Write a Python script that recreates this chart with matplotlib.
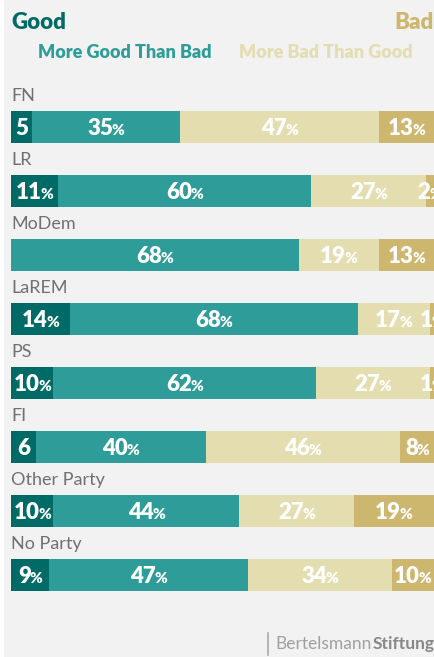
import matplotlib.pyplot as plt
import numpy as np
from matplotlib.patches import Rectangle

W, H, DPI = 435, 657, 100

parties = ["FN", "LR", "MoDem", "LaREM", "PS", "FI", "Other Party", "No Party"]
good = [5, 11, 0, 14, 10, 6, 10, 9]
more_good = [35, 60, 68, 68, 62, 40, 44, 47]
more_bad = [47, 27, 19, 17, 27, 46, 27, 34]
bad = [13, 2, 13, 1, 1, 8, 19, 10]

series = [good, more_good, more_bad, bad]
colors = ["#006b66", "#2e9c98", "#e3ddb0", "#cdb66e"]
BG = "#f2f2f2"

plt.rcParams["font.family"] = ["Lato", "DejaVu Sans"]

fig = plt.figure(figsize=(W / DPI, H / DPI), dpi=DPI, facecolor=BG)
fig.patches.append(Rectangle((0, 0), 4 / W, 1, transform=fig.transFigure,
                             facecolor="white", edgecolor="none"))


def px(x, y):
    return x / W, 1 - y / H


# header
fig.text(*px(11, 29), "Good", color="#006b66", fontsize=16, fontweight="heavy", va="baseline")
fig.text(*px(434, 29), "Bad", color="#cdb66e", fontsize=16, fontweight="heavy", va="baseline", ha="right")
fig.text(*px(38, 58), "More Good Than Bad", color="#2e9c98", fontsize=13, fontweight="heavy", va="baseline")
fig.text(*px(239, 58), "More Bad Than Good", color="#e3ddb0", fontsize=13, fontweight="heavy", va="baseline")

# bars
ax = fig.add_axes([11 / W, (H - 607) / H, 423 / W, 512 / H])
ax.set_facecolor("none")
ax.set_xlim(0, 100)
ax.set_ylim(len(parties) - 0.5, -0.5)
ax.axis("off")

y = np.arange(len(parties))
left = np.zeros(len(parties))
for vals, c in zip(series, colors):
    ax.barh(y, vals, left=left, height=0.5, color=c, edgecolor="none")
    left += np.array(vals)

for i, name in enumerate(parties):
    ax.text(0, i - 0.49, name, color="#707070", fontsize=13, va="center", ha="left")

fig.canvas.draw()
r = fig.canvas.get_renderer()
pt = 72 / DPI


def width_px(s, size):
    t = fig.text(0, 0, s, fontsize=size, fontweight="heavy")
    w = t.get_window_extent(r).width
    t.remove()
    return w


left = np.zeros(len(parties))
for k, vals in enumerate(series):
    for i, v in enumerate(vals):
        if v > 0:
            cx = left[i] + v / 2
            num = str(v)
            show_pct = not (k == 0 and v < 7)
            if show_pct:
                wn = width_px(num + "0", 16) - width_px("0", 16) - 1.5
                wp = width_px("%", 11)
            else:
                wn = width_px(num, 16)
                wp = 0
            x0 = -(wn + wp) / 2
            ax.annotate(num, (cx, i), xytext=(x0 * pt, -8 * pt), textcoords="offset points",
                        color="white", fontsize=16, fontweight="heavy",
                        ha="left", va="baseline", annotation_clip=False)
            if show_pct:
                ax.annotate("%", (cx, i), xytext=((x0 + wn) * pt, -8 * pt), textcoords="offset points",
                            color="white", fontsize=11, fontweight="heavy",
                            ha="left", va="baseline", annotation_clip=False)
        left[i] += v

# footer
fig.add_artist(plt.Line2D([268 / W, 268 / W], [1 - 633 / H, 1 - 655 / H],
                          transform=fig.transFigure, color="#aaaaaa", lw=1.2))
t2 = fig.text(*px(435, 649), "Stiftung", color="#888888", fontsize=12.5, fontweight="bold",
              ha="right", va="baseline")
ws = t2.get_window_extent(r).width
fig.text(*px(435 - ws - 1, 649), "Bertelsmann", color="#a0a0a0", fontsize=12.5,
         ha="right", va="baseline")

fig.savefig("out.png", dpi=DPI, facecolor=BG)
